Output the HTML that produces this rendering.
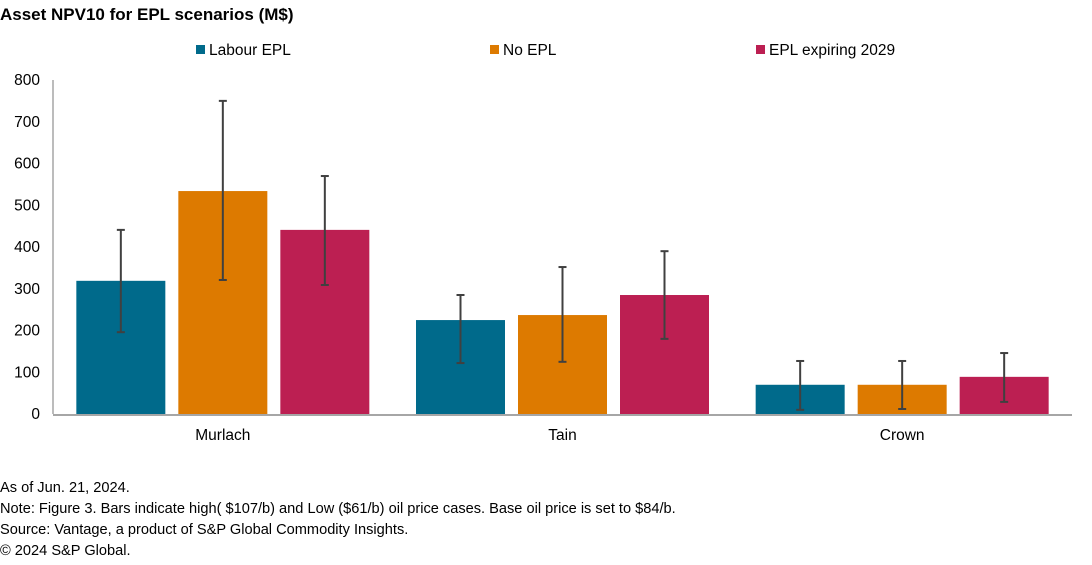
<!DOCTYPE html>
<html><head><meta charset="utf-8"><style>
body{margin:0;width:1092px;height:560px;background:#fff;font-family:"Liberation Sans",sans-serif;color:#000;overflow:hidden}
</style></head><body>
<svg width="1092" height="560" font-family="Liberation Sans, sans-serif">
<text x="0" y="20" font-size="17" font-weight="bold">Asset NPV10 for EPL scenarios (M$)</text>
<g id="legend"></g>
<g id="yaxis"></g>
<g id="bars"></g>
<g id="xaxis"></g>
<g font-size="14.6">
<text x="0" y="492">As of Jun. 21, 2024.</text>
<text x="0" y="513">Note: Figure 3. Bars indicate high( $107/b) and Low ($61/b) oil price cases. Base oil price is set to $84/b.</text>
<text x="0" y="534">Source: Vantage,  a product of S&amp;P Global Commodity Insights.</text>
<text x="0" y="555">© 2024 S&amp;P Global.</text>
</g>
</svg>
<script>
const categories=["Murlach","Tain","Crown"];
const seriesNames=["Labour EPL","No EPL","EPL expiring 2029"];
const labourEPL=[319,225,70];
const noEPL=[534,237,70];
const epl2029=[441,285,89];
const labourHigh=[441,285,127], labourLow=[196,122,10];
const noHigh=[750,352,127], noLow=[321,125,12];
const e29High=[570,390,146], e29Low=[309,180,29];
const yTicks=[0,100,200,300,400,500,600,700,800];
const colors=["#006a8b","#dd7a00","#bc1f52"];
const NS="http://www.w3.org/2000/svg";
const x0=53,x1=1072,yb=414,yt=80;
const y=v=>yb-(v/800)*(yb-yt);
const gw=(x1-x0)/categories.length;
const bw=89,gap=13;
const bx=(g,s)=>x0+g*gw+gw/2+(s-1)*(bw+gap)-bw/2;
function mk(t,a,p){const e=document.createElementNS(NS,t);for(const k in a)e.setAttribute(k,a[k]);p.appendChild(e);return e;}
const ya=document.getElementById('yaxis');
yTicks.forEach(v=>{const t=mk('text',{x:40,y:y(v)+5,'font-size':15.5,'text-anchor':'end'},ya);t.textContent=v;

});
const yl=mk('line',{x1:x0,x2:x0,y1:yt,y2:yb,stroke:'#a6a6a6','stroke-width':1.5},ya);


const vals=[labourEPL,noEPL,epl2029],hi=[labourHigh,noHigh,e29High],lo=[labourLow,noLow,e29Low];
const bg=document.getElementById('bars');
categories.forEach((c,g)=>{vals.forEach((arr,s)=>{
const r=mk('rect',{x:bx(g,s),y:y(arr[g]),width:bw,height:yb-y(arr[g]),fill:colors[s]},bg);


const cx=bx(g,s)+bw/2;
const eg=mk('g',{stroke:'#404040','stroke-width':2},bg);


mk('line',{x1:cx,x2:cx,y1:y(hi[s][g]),y2:y(lo[s][g])},eg);
mk('line',{x1:cx-4,x2:cx+4,y1:y(hi[s][g]),y2:y(hi[s][g])},eg);
mk('line',{x1:cx-4,x2:cx+4,y1:y(lo[s][g]),y2:y(lo[s][g])},eg);
});});
const xa=document.getElementById('xaxis');
const xl=mk('line',{x1:x0,x2:x1,y1:yb+1,y2:yb+1,stroke:'#a6a6a6','stroke-width':2},xa);


categories.forEach((c,g)=>{const t=mk('text',{x:x0+g*gw+gw/2,y:440,'font-size':15.5,'text-anchor':'middle'},xa);t.textContent=c;

});
const lg=document.getElementById('legend');
const lx=[196,490,756];
seriesNames.forEach((n,i)=>{
mk('rect',{x:lx[i],y:45,width:9,height:9,fill:colors[i]},lg);
const t=mk('text',{x:lx[i]+13,y:55,'font-size':15.5},lg);t.textContent=n;

});
</script>
</body></html>
